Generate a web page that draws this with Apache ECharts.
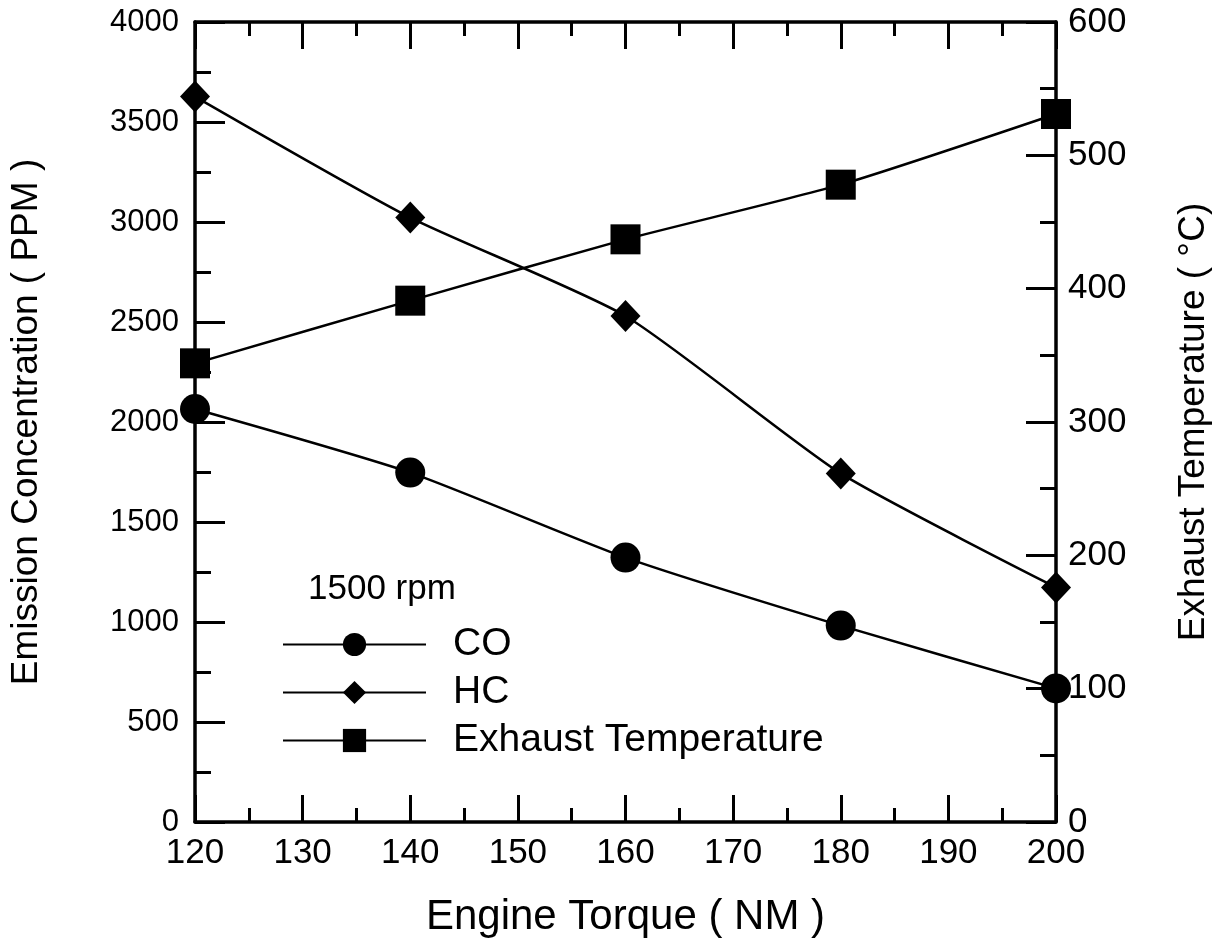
<!DOCTYPE html>
<html>
<head>
<meta charset="utf-8">
<script src="https://cdn.jsdelivr.net/npm/echarts@6/dist/echarts.min.js"></script>
<style>
html,body{margin:0;padding:0;background:#fff;}
#chart{width:1229px;height:943px;}
</style>
</head>
<body>
<div id="chart"></div>
<script>
const torque = [120, 140, 160, 180, 200];
const coValues = [2065, 1747, 1322, 982, 668];
const hcValues = [3627, 3022, 2530, 1743, 1173];
const tempValues = [344, 391, 437, 478, 531];
const seriesNames = ['CO', 'HC', 'Exhaust Temperature'];
const legendTitle = '1500 rpm';

const FONT = '"Liberation Sans", Arial, Helvetica, sans-serif';
const chart = echarts.init(document.getElementById('chart'));

function pairs(xs, ys) { return xs.map((x, i) => [x, ys[i]]); }

const axisLine = { show: true, onZero: false, lineStyle: { color: '#000', width: 3.5 } };
const plain = v => String(v);

chart.setOption({
  backgroundColor: '#fff',
  animation: false,
  textStyle: { fontFamily: FONT, color: '#000' },
  title: {
    text: legendTitle, left: 303, top: 567,
    textStyle: { fontFamily: FONT, fontSize: 35, fontWeight: 'normal', color: '#000' }
  },
  legend: {
    orient: 'vertical', left: 277, top: 620,
    itemWidth: 143, itemHeight: 29, itemGap: 9,
    data: seriesNames,
    textStyle: { fontFamily: FONT, fontSize: 39, color: '#000', padding: [0, 0, 0, 22] }
  },
  grid: { left: 193, right: 173, top: 22, bottom: 121, containLabel: false },
  xAxis: [{
    type: 'value', min: 120, max: 200, interval: 10,
    name: 'Engine Torque ( NM )', nameLocation: 'middle', nameGap: 74,
    nameTextStyle: { fontFamily: FONT, fontSize: 42, color: '#000' },
    axisLine: axisLine,
    axisTick: { show: true, inside: true, length: 27, lineStyle: { color: '#000', width: 3 } },
    minorTick: { show: true, splitNumber: 2, length: 14, lineStyle: { color: '#000', width: 3 } },
    axisLabel: { fontFamily: FONT, fontSize: 35, color: '#000', margin: 14, formatter: plain },
    splitLine: { show: false }
  }, {
    type: 'value', min: 120, max: 200, interval: 10, position: 'top',
    axisLine: axisLine,
    axisTick: { show: true, inside: true, length: 27, lineStyle: { color: '#000', width: 3 } },
    minorTick: { show: true, splitNumber: 2, length: 14, lineStyle: { color: '#000', width: 3 } },
    axisLabel: { show: false },
    splitLine: { show: false }
  }],
  yAxis: [{
    type: 'value', min: 0, max: 4000, interval: 500, position: 'left',
    name: 'Emission Concentration ( PPM )', nameLocation: 'middle', nameGap: 150,
    nameTextStyle: { fontFamily: FONT, fontSize: 37, color: '#000' },
    axisLine: axisLine,
    axisTick: { show: true, inside: true, length: 30, lineStyle: { color: '#000', width: 3 } },
    minorTick: { show: true, splitNumber: 2, length: 16, lineStyle: { color: '#000', width: 3 } },
    axisLabel: { fontFamily: FONT, fontSize: 31, color: '#000', margin: 16, formatter: plain },
    splitLine: { show: false }
  }, {
    type: 'value', min: 0, max: 600, interval: 100, position: 'right',
    name: 'Exhaust Temperature ( °C)', nameLocation: 'middle', nameGap: 119, nameRotate: 90,
    nameTextStyle: { fontFamily: FONT, fontSize: 37, color: '#000' },
    axisLine: axisLine,
    axisTick: { show: true, inside: true, length: 30, lineStyle: { color: '#000', width: 3 } },
    minorTick: { show: true, splitNumber: 2, length: 16, lineStyle: { color: '#000', width: 3 } },
    axisLabel: { fontFamily: FONT, fontSize: 35, color: '#000', margin: 12, formatter: plain },
    splitLine: { show: false }
  }],
  series: [{
    name: seriesNames[0], type: 'line', data: pairs(torque, coValues),
    symbol: 'circle', symbolSize: 30, smooth: 0.2,
    lineStyle: { color: '#000', width: 2.5 }, itemStyle: { color: '#000' }
  }, {
    name: seriesNames[1], type: 'line', data: pairs(torque, hcValues),
    symbol: 'diamond', symbolSize: [30, 32], smooth: 0.2,
    lineStyle: { color: '#000', width: 2.5 }, itemStyle: { color: '#000' }
  }, {
    name: seriesNames[2], type: 'line', yAxisIndex: 1, data: pairs(torque, tempValues),
    symbol: 'rect', symbolSize: 30, smooth: 0.2,
    lineStyle: { color: '#000', width: 2.5 }, itemStyle: { color: '#000' }
  }]
});
</script>
</body>
</html>
